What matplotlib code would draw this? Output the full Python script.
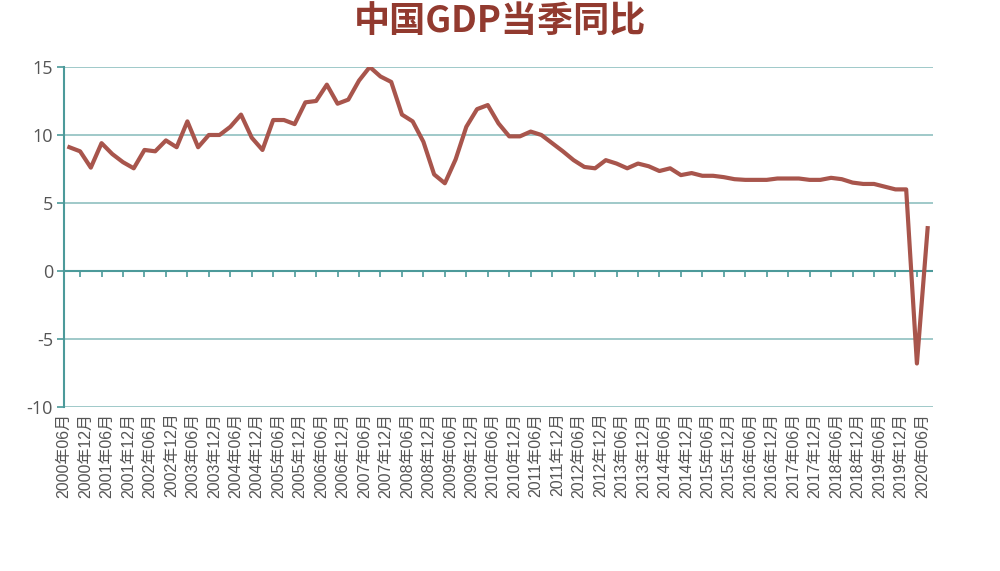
import numpy as np
import matplotlib.pyplot as plt

plt.rcParams['font.family'] = ['Open Sans', 'Noto Sans CJK SC', 'DejaVu Sans']
plt.rcParams['axes.unicode_minus'] = False

# 季度标签 (2000年06月 ~ 2020年06月)
quarters = ['%d年%02d月' % (y, m) for y in range(2000, 2021) for m in (3, 6, 9, 12)]
quarters = quarters[1:quarters.index('2020年06月') + 1]

# GDP当季同比 (%)
gdp_yoy = [
    9.1, 8.8, 7.6,
    9.4, 8.6, 8.0, 7.55,
    8.9, 8.8, 9.6, 9.1,
    11.0, 9.1, 10.0, 10.0,
    10.6, 11.5, 9.8, 8.9,
    11.1, 11.1, 10.8, 12.4,
    12.5, 13.7, 12.3, 12.6,
    14.0, 15.0, 14.3, 13.9,
    11.5, 11.0, 9.5, 7.1,
    6.45, 8.2, 10.6, 11.9,
    12.2, 10.85, 9.9, 9.9,
    10.25, 10.0, 9.4, 8.8,
    8.15, 7.65, 7.55, 8.15,
    7.9, 7.55, 7.9, 7.7,
    7.35, 7.55, 7.05, 7.2,
    7.0, 7.0, 6.9, 6.75,
    6.7, 6.7, 6.7, 6.8,
    6.8, 6.8, 6.7, 6.7,
    6.85, 6.75, 6.5, 6.4,
    6.4, 6.2, 6.0, 6.0,
    -6.8, 3.15,
]

teal = '#4c9a9a'
grid_c = '#8fc0c0'

fig = plt.figure(figsize=(10, 5.71), dpi=100)
ax = fig.add_axes([0.064, 0.2872, 0.869, 0.5955])

idx = np.arange(len(quarters))
ax.plot(idx, gdp_yoy, color='#a8554c', lw=3.0, solid_joinstyle='round', zorder=3)

ax.set_xlim(-0.5, len(quarters) - 0.5)
ax.set_ylim(-10, 15)
ax.set_yticks([-10, -5, 0, 5, 10, 15])
ax.grid(axis='y', color=grid_c, lw=1.2)
ax.axhline(0, color=teal, lw=1.5, zorder=2)

for s in ['top', 'right', 'bottom']:
  ax.spines[s].set_visible(False)
ax.spines['left'].set_color(teal)
ax.spines['left'].set_linewidth(1.5)

ax.tick_params(axis='y', colors=teal, labelcolor='#555555', labelsize=13,
               length=5, width=1.2, pad=3)

# 横轴标签 (每两个季度一个)
lab_idx = idx[::2]
ax.set_xticks(lab_idx - 0.5)
ax.set_xticklabels([quarters[i] for i in lab_idx], rotation=90, fontsize=11.5,
                   color='#555555',
                   family=['Liberation Sans', 'Noto Sans CJK SC'])
ax.tick_params(axis='x', length=0, pad=4)

# 零轴上的刻度
sec = ax.secondary_xaxis(0.4)
sec.set_xticks(idx[1::2])
sec.set_xticklabels([])
sec.tick_params(axis='x', direction='out', length=4, width=1.2, colors=teal)
sec.spines['bottom'].set_visible(False)

fig.text(0.5, 0.961, '中国GDP当季同比', ha='center', va='center',
         fontsize=26, fontweight='bold', color='#923a2f',
         family=['Noto Sans CJK SC', 'DejaVu Sans'])

fig.savefig('out.png')
